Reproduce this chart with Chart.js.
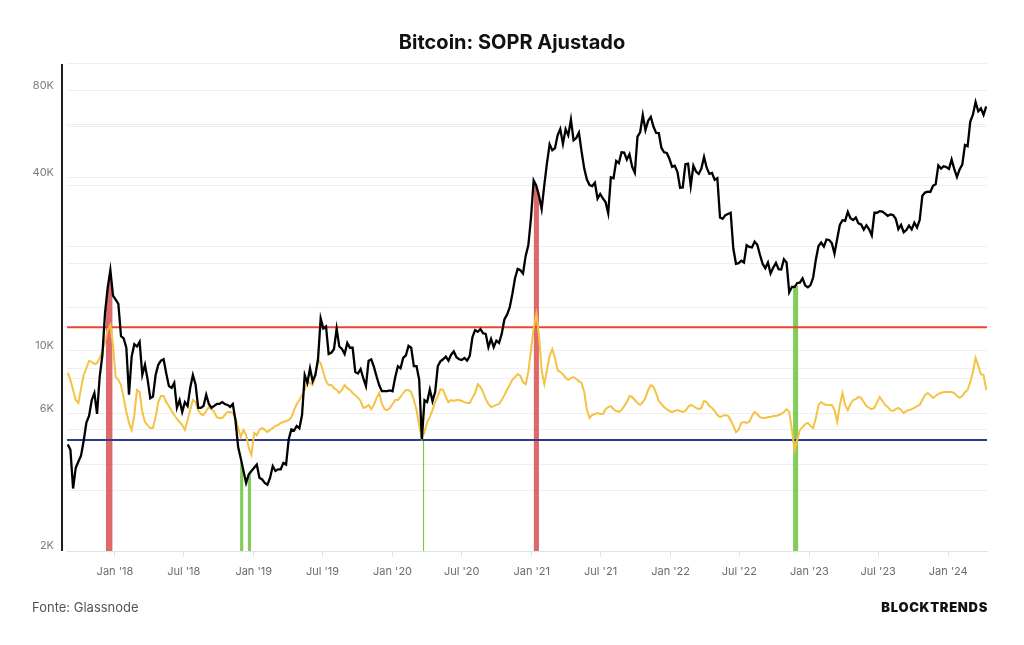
<!DOCTYPE html>
<html><head><meta charset="utf-8">
<script src="https://cdn.jsdelivr.net/npm/chart.js@4.4.1/dist/chart.umd.min.js"></script>
<style>
html,body{margin:0;padding:0;background:#fff;}
#wrap{position:relative;width:1024px;height:645px;font-family:Inter,"Noto Sans",sans-serif;overflow:hidden;}
#title{position:absolute;left:0;right:0;top:30px;text-align:center;font-weight:700;font-size:20px;color:#111;line-height:24px;}
#src{position:absolute;left:32px;top:598px;font-size:13px;color:#555;line-height:18px;}
#brand{position:absolute;right:36px;top:598px;font-size:13px;font-weight:900;color:#111;letter-spacing:0.7px;line-height:18px;}
canvas{position:absolute;left:0;top:0;}
</style></head>
<body><div id="wrap">
<canvas id="c" width="1024" height="645"></canvas>
<div id="title">Bitcoin: SOPR Ajustado</div>
<div id="src">Fonte: Glassnode</div>
<div id="brand">BLOCKTRENDS</div>
</div>
<script>
// ---- categories: weekly observations starting at firstWeek ----
const firstWeek = '2017-08-30';
const axisStart = '2017-08-28';
const axisEnd = '2024-04-12';

// ---- Bitcoin price (USD), weekly ----
const price2017 = [4700,4500,3300,3900,4100,4300,4850,5600,5900,6700,7100,6000,8100,9600,13500,16500,19000,15500];
const price2018 = [15000,14500,11200,11000,10200, 7000,9500,10500,10300, 10700,8200,8900,7900, 6800,6900,8200,8900, 9200,9300,8300,7500,7400, 7700,6300,6700,6100, 6600,6400,7400,8200, 7600,6300,6300,6400,7000, 6500,6300,6400,6500, 6500,6600,6500,6450,6350, 6500,5700,4600,4200, 3800,3450,3700,3800];
const price2019 = [3900,4000,3600,3550,3450, 3400,3600,3950,3800, 3850,3850,4050,4000, 4900,5300,5250,5450, 5350,5950,8200,7700,8650, 7800,8200,9300,12900, 11900,12100,9700,9800,10100, 11900,10300,10100,9700, 10600,10200,10200,8400, 8300,8600,8000,7500,9200, 9300,8750,8100,7550, 7200,7200,7200,7250];
const price2020 = [7200,8050,8800,8650,9400, 9600,10350,10200,8800, 8800,7900,4900,6700, 6600,7300,6650,7150,8800, 9150,9300,9500,9200, 9650,9900,9450,9300, 9250,9400,9200,9550,11100, 11750,11600,11850,11450, 11400,10250,10950,10250,10800, 10600,11400,12800,13300, 14100,15700,17800,19200, 19000,18500,21300,23200,28900];
const price2021 = [39000,37400,34500,31000, 37600,44800,52100,49700, 50500,56000,58900,52300,58800, 56000,63500,53800,54800, 57200,49200,42900,39300, 37600,37300,38300,33700,35000, 33800,32800,30000,40000, 39700,45600,44800,48900, 48800,46100,48100,43500,41500, 55400,57400,65900,58400, 62900,64900,60100,57100, 57000,50600,48900,48600,46400];
const price2022 = [43500,43900,41800,36800, 36900,44400,44600,37300, 43900,41900,41100,42900,47100, 43200,41100,41400,39200, 39700,29000,28700,29500, 29800,30100,22600,20000,20100, 20500,20200,23200,22900, 22800,23900,23300,21500,20000, 19300,20200,18500,19400, 20150,19150,19100,20750, 20200,15900,16600,16600,17150, 17200,17800,16800,16550];
const price2023 = [16850,17950,20700,23050, 23700,22950,24300,24200, 23600,21700,24400,27300,28350, 28200,30300,28800,28400, 29000,27650,27400,26300,27200, 26350,25100,30100,30100, 30500,30400,29900,29350, 29700,29550,28700,26400,27300, 25750,26200,27150,26350, 27800,26750,28400,34500, 35400,35650,35550,37400,37850, 44000,42900,43700,43450];
const price2024 = [42800,46100,42700,40100,42600, 44300,51800,51300,62500, 66100,73100,67900,69500, 66000,70600];

// ---- Adjusted SOPR, weekly ----
const soprValues = [
0.9984,0.9961,0.9928,0.9895,0.9885,0.9934,0.9977,1.0000,1.0023,1.0020,
1.0013,1.0016,1.0033,1.0056,1.0085,1.0125,1.0141,1.0075,0.9970,0.9961,
0.9944,0.9902,0.9856,0.9820,0.9797,0.9846,0.9928,0.9921,0.9856,0.9823,
0.9813,0.9803,0.9803,0.9839,0.9888,0.9908,0.9908,0.9888,0.9875,0.9859,
0.9846,0.9833,0.9823,0.9813,0.9797,0.9829,0.9862,0.9895,0.9888,0.9862,
0.9849,0.9846,0.9859,0.9872,0.9865,0.9856,0.9839,0.9836,0.9836,0.9846,
0.9856,0.9856,0.9852,0.9836,0.9803,0.9774,0.9797,0.9780,0.9738,0.9715,
0.9787,0.9780,0.9797,0.9803,0.9797,0.9790,0.9797,0.9803,0.9810,0.9813,
0.9820,0.9823,0.9826,0.9829,0.9839,0.9862,0.9882,0.9895,0.9911,0.9928,
0.9954,0.9951,0.9944,0.9974,1.0026,1.0016,0.9987,0.9957,0.9944,0.9944,
0.9934,0.9928,0.9918,0.9928,0.9944,0.9934,0.9928,0.9918,0.9911,0.9902,
0.9892,0.9869,0.9872,0.9879,0.9865,0.9879,0.9902,0.9918,0.9882,0.9865,
0.9862,0.9869,0.9882,0.9895,0.9895,0.9905,0.9918,0.9928,0.9928,0.9921,
0.9895,0.9862,0.9813,0.9770,0.9790,0.9823,0.9839,0.9862,0.9888,0.9908,
0.9931,0.9928,0.9905,0.9888,0.9895,0.9892,0.9895,0.9895,0.9892,0.9888,
0.9885,0.9885,0.9902,0.9918,0.9947,0.9938,0.9921,0.9898,0.9882,0.9872,
0.9875,0.9879,0.9882,0.9895,0.9911,0.9928,0.9944,0.9961,0.9970,0.9980,
0.9974,0.9954,0.9947,0.9987,1.0059,1.0131,1.0177,1.0108,0.9993,0.9947,
0.9993,1.0039,1.0062,1.0033,0.9993,0.9987,0.9980,0.9967,0.9961,0.9967,
0.9970,0.9964,0.9957,0.9951,0.9921,0.9862,0.9836,0.9846,0.9849,0.9852,
0.9849,0.9849,0.9865,0.9872,0.9875,0.9865,0.9859,0.9856,0.9862,0.9875,
0.9888,0.9908,0.9905,0.9895,0.9885,0.9879,0.9888,0.9902,0.9928,0.9944,
0.9938,0.9918,0.9892,0.9882,0.9872,0.9865,0.9859,0.9856,0.9859,0.9862,
0.9859,0.9856,0.9859,0.9872,0.9879,0.9875,0.9869,0.9865,0.9869,0.9892,
0.9888,0.9875,0.9869,0.9859,0.9846,0.9839,0.9843,0.9846,0.9843,0.9829,
0.9810,0.9790,0.9797,0.9820,0.9823,0.9820,0.9823,0.9843,0.9856,0.9849,
0.9839,0.9836,0.9836,0.9839,0.9839,0.9843,0.9843,0.9846,0.9849,0.9856,
0.9865,0.9856,0.9797,0.9731,0.9764,0.9797,0.9806,0.9816,0.9820,0.9810,
0.9803,0.9836,0.9879,0.9888,0.9882,0.9879,0.9879,0.9879,0.9862,0.9823,
0.9879,0.9918,0.9879,0.9862,0.9882,0.9895,0.9898,0.9905,0.9902,0.9888,
0.9875,0.9869,0.9865,0.9869,0.9888,0.9905,0.9892,0.9879,0.9872,0.9862,
0.9859,0.9865,0.9869,0.9862,0.9852,0.9859,0.9862,0.9865,0.9869,0.9875,
0.9879,0.9895,0.9911,0.9918,0.9911,0.9902,0.9908,0.9915,0.9918,0.9921,
0.9921,0.9921,0.9921,0.9918,0.9908,0.9902,0.9908,0.9921,0.9928,0.9954,
0.9987,1.0033,1.0007,0.9980,0.9977,0.9928
];

// ---- SOPR signal thresholds ----
const soprUpper = 1.0134;
const soprLower = 0.9764;

// ---- signal periods (date, price at bar top) ----
const redSignals = [
  [['2017-12-08',14400],['2017-12-13',16500],['2017-12-20',19000],['2017-12-26',16000]],
  [['2021-01-06',39000],['2021-01-13',37400],['2021-01-20',34500]]
];
const greenSignals = [
  [['2018-11-26',4100],['2018-12-05',3800]],
  [['2018-12-16',3550],['2018-12-25',3750]],
  [['2020-03-21',4900],['2020-03-24',5000]],
  [['2022-11-19',16300],['2022-12-03',16900]]
];

// ---- axis ticks ----
const xTickDates = ['2018-01-01','2018-07-01','2019-01-01','2019-07-01','2020-01-01','2020-07-01','2021-01-01','2021-07-01','2022-01-01','2022-07-01','2023-01-01','2023-07-01','2024-01-01'];
const xTickLabels = ["Jan '18","Jul '18","Jan '19","Jul '19","Jan '20","Jul '20","Jan '21","Jul '21","Jan '22","Jul '22","Jan '23","Jul '23","Jan '24"];
const priceGrid = [2000,4000,6000,8000,10000,20000,40000,60000,80000,100000];
const priceLabelValues = [2000,6000,10000,40000,80000];
const priceLabelTexts = ['2K','6K','10K','40K','80K'];

// ---------------------------------------------------------------
const BASE = Date.UTC(2018,0,1), DAY = 86400000;
function dayOf(s){const p=s.split('-').map(Number);return (Date.UTC(p[0],p[1]-1,p[2])-BASE)/DAY;}
const price = [].concat(price2017,price2018,price2019,price2020,price2021,price2022,price2023,price2024);
const day0 = dayOf(firstWeek);
const xDays = price.map((_,i)=>day0+7*i);
const xMin = dayOf(axisStart), xMax = dayOf(axisEnd);
const xTicks = xTickDates.map(dayOf);

const datasets = [];
datasets.push({label:'price',data:price.map((v,i)=>({x:xDays[i],y:v})),yAxisID:'y',borderColor:'#000',borderWidth:2.3,pointRadius:0,tension:0,order:0});
datasets.push({label:'sopr',data:soprValues.map((v,i)=>({x:xDays[i],y:v})),yAxisID:'y2',borderColor:'#f4c344',borderWidth:2,pointRadius:0,tension:0,order:1});
datasets.push({label:'upper',data:[{x:xMin,y:soprUpper},{x:xMax,y:soprUpper}],yAxisID:'y2',borderColor:'#e8472f',borderWidth:2,pointRadius:0,order:2});
datasets.push({label:'lower',data:[{x:xMin,y:soprLower},{x:xMax,y:soprLower}],yAxisID:'y2',borderColor:'#2f3a8e',borderWidth:2,pointRadius:0,order:2});
redSignals.forEach(seg=>datasets.push({label:'red',data:seg.map(p=>({x:dayOf(p[0]),y:p[1]})),yAxisID:'y',borderWidth:0,pointRadius:0,backgroundColor:'rgba(213,72,72,0.82)',fill:'start',order:3}));
greenSignals.forEach(seg=>datasets.push({label:'green',data:seg.map(p=>({x:dayOf(p[0]),y:p[1]})),yAxisID:'y',borderWidth:0,pointRadius:0,backgroundColor:'rgba(110,195,60,0.85)',fill:'start',order:3}));

// thin vertical edge so very short signal periods stay visible as a pale green stripe
const signalEdges = {id:'signalEdges',beforeDatasetsDraw(chart){
  const a=chart.chartArea,c=chart.ctx,xs=chart.scales.x,ys=chart.scales.y;
  c.save();c.strokeStyle='rgba(140,205,100,0.75)';c.lineWidth=1.2;
  greenSignals.forEach(seg=>{const x0=xs.getPixelForValue(dayOf(seg[0][0])),x1=xs.getPixelForValue(dayOf(seg[seg.length-1][0]));
    if(x1-x0<3){const xm=(x0+x1)/2;c.beginPath();c.moveTo(xm,ys.getPixelForValue(seg[0][1]));c.lineTo(xm,a.bottom);c.stroke();}});
  c.restore();}};
const leftAxisLine = {id:'leftAxisLine',afterDraw(chart){const a=chart.chartArea,c=chart.ctx;c.save();c.strokeStyle='#1e1e1e';c.lineWidth=2;c.beginPath();c.moveTo(a.left-5,a.top+1);c.lineTo(a.left-5,a.bottom);c.stroke();c.restore();}};

new Chart(document.getElementById('c'),{
  type:'line',
  data:{datasets},
  plugins:[signalEdges,leftAxisLine],
  options:{
    responsive:false,animation:false,
    layout:{padding:{top:63,right:37,left:0,bottom:0}},
    plugins:{legend:{display:false},tooltip:{enabled:false},title:{display:false}},
    scales:{
      x:{type:'linear',min:xMin,max:xMax,
        afterBuildTicks:s=>{s.ticks=xTicks.map(v=>({value:v}));},
        afterFit:s=>{s.height=94;},
        ticks:{autoSkip:false,maxRotation:0,padding:8,color:'#6b6b6b',font:{family:'Inter',size:11},
          callback:(v)=>{const k=xTicks.indexOf(v);return k>=0?xTickLabels[k]:null;}},
        grid:{drawOnChartArea:false,drawTicks:true,tickLength:6,color:'#e4e4e4'},
        border:{color:'#e2e2e2',width:1}},
      y:{type:'logarithmic',position:'left',min:2000,max:100000,
        afterBuildTicks:s=>{s.ticks=priceGrid.map(v=>({value:v}));},
        afterFit:s=>{s.width=67;},
        ticks:{padding:13,labelOffset:-5,color:'#7d7d7d',font:{family:'Inter',size:11},
          callback:(v)=>{const k=priceLabelValues.indexOf(v);return k>=0?priceLabelTexts[k]:'';}},
        grid:{color:'#efefef',lineWidth:1,drawTicks:false},
        border:{display:false}},
      y2:{type:'linear',position:'right',min:0.94,max:1.10,
        afterFit:s=>{s.width=0;},
        ticks:{display:false,stepSize:0.02},
        grid:{color:'#efefef',lineWidth:1,drawTicks:false},
        border:{display:false}}
    }
  }
});
</script>
</body></html>
